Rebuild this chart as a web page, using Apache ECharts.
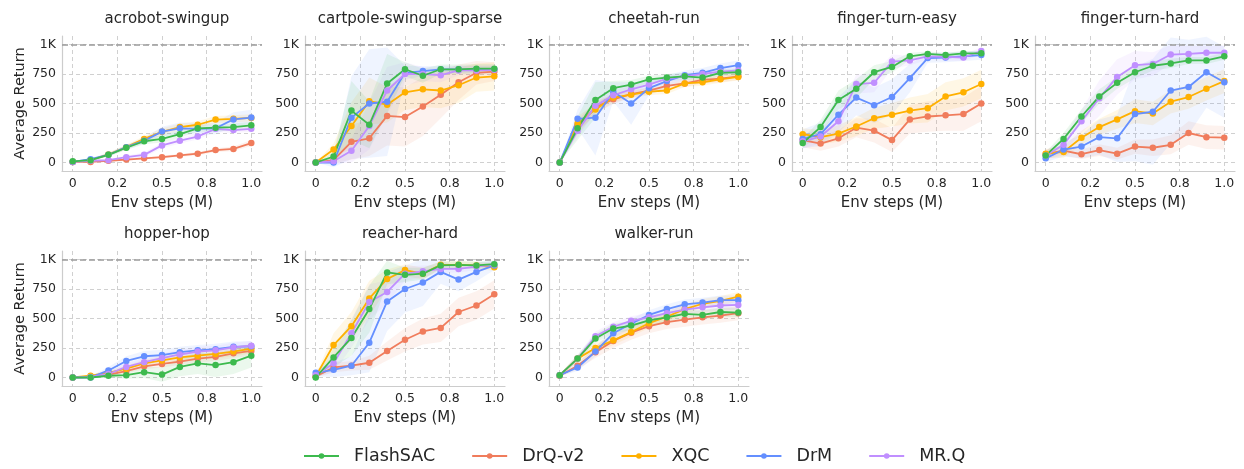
<!DOCTYPE html>
<html><head><meta charset="utf-8">
<script src="https://cdn.jsdelivr.net/npm/echarts@6/dist/echarts.min.js"></script>
<style>html,body{margin:0;padding:0;background:#fff}#chart{width:1244px;height:469px}</style>
</head><body><div id="chart"></div>
<script>
const steps = [0,0.1,0.2,0.3,0.4,0.5,0.6,0.7,0.8,0.9,1.0];
const xTickValues = [0,0.25,0.5,0.75,1.0];
const xTickLabels = ["0","0.2","0.5","0.8","1.0"];
const yTickValues = [0,250,500,750,1000];
const yTickLabels = ["0","250","500","750","1K"];
const methods = ["FlashSAC","DrQ-v2","XQC","DrM","MR.Q"];
const methodColors = ["#3dba4e","#f07c5c","#ffb000","#648fff","#c08fff"];
const tasks = ["acrobot-swingup","cartpole-swingup-sparse","cheetah-run","finger-turn-easy","finger-turn-hard","hopper-hop","reacher-hard","walker-run"];

// rows in method order: FlashSAC, DrQ-v2, XQC, DrM, MR.Q
const acrobotSwingupMean = [
  [10,20,65,125,180,200,240,290,295,300,315],
  [5,5,15,25,35,45,60,75,105,115,165],
  [5,20,68,130,200,260,300,320,364,370,378],
  [5,28,65,130,185,262,290,285,290,365,381],
  [5,15,20,45,65,145,185,220,285,275,285]
];
const acrobotSwingupStd = [
  [5,10,15,20,25,30,30,30,30,30,30],
  [5,5,8,10,10,12,12,15,15,20,25],
  [5,10,15,20,25,30,30,30,30,30,30],
  [5,10,15,20,25,40,50,50,50,60,65],
  [5,5,8,15,20,25,25,25,25,25,25]
];
const cartpoleSwingupSparseMean = [
  [0,50,440,320,670,790,735,790,790,795,795],
  [0,20,175,205,395,385,475,575,680,760,770],
  [0,110,310,520,490,595,620,610,655,720,730],
  [0,0,380,500,515,760,775,790,790,790,790],
  [0,10,100,310,610,750,750,740,780,780,785]
];
const cartpoleSwingupSparseStd = [
  [0,40,250,200,250,60,60,40,40,40,40],
  [0,30,150,150,250,250,250,200,150,100,80],
  [0,50,200,200,150,150,150,150,150,120,120],
  [0,40,350,460,460,60,40,30,30,30,30],
  [0,20,100,200,200,100,60,60,40,40,40]
];
const cheetahRunMean = [
  [0,290,530,630,660,705,720,730,720,760,765],
  [0,300,470,535,580,610,650,670,700,710,730],
  [0,330,450,550,575,600,610,670,680,705,725],
  [0,370,380,600,500,630,690,740,760,800,825],
  [0,270,480,570,620,660,710,730,750,770,780]
];
const cheetahRunStd = [
  [0,100,150,60,40,30,30,30,30,30,30],
  [0,60,50,40,30,30,30,30,30,30,30],
  [0,60,50,40,30,30,30,30,30,30,30],
  [0,80,320,80,180,60,50,40,40,40,40],
  [0,60,50,40,30,30,30,30,30,30,30]
];
const fingerTurnEasyMean = [
  [165,300,530,625,765,810,900,920,910,925,925],
  [190,160,205,295,270,190,365,390,400,410,500],
  [240,215,245,305,375,405,440,460,560,595,665],
  [200,240,405,550,485,555,715,885,890,900,910],
  [180,220,350,665,675,855,865,900,895,890,945]
];
const fingerTurnEasyStd = [
  [40,60,80,80,60,50,30,20,20,20,20],
  [60,60,70,80,100,100,120,130,130,140,150],
  [50,60,70,80,90,100,110,120,120,120,120],
  [80,100,150,150,150,150,120,40,40,40,40],
  [60,60,80,80,80,60,40,30,30,30,30]
];
const fingerTurnHardMean = [
  [60,200,390,560,675,765,820,840,865,865,900],
  [70,100,70,105,75,135,125,150,250,215,210],
  [75,90,210,300,365,435,415,515,555,625,690],
  [35,110,135,215,205,410,430,610,640,765,680],
  [60,150,350,545,725,825,835,915,920,930,930]
];
const fingerTurnHardStd = [
  [30,50,60,60,50,50,40,40,30,30,30],
  [40,40,40,50,50,60,70,80,100,100,100],
  [40,50,60,70,80,100,100,100,100,100,100],
  [30,60,100,150,200,400,450,450,400,300,300],
  [40,60,100,150,150,120,100,80,70,60,60]
];
const hopperHopMean = [
  [0,0,15,20,45,25,90,120,105,130,185],
  [0,5,25,55,95,115,135,160,175,205,225],
  [0,15,40,75,120,145,170,185,200,220,245],
  [0,0,60,140,180,190,215,230,240,260,265],
  [0,5,30,90,130,165,195,220,230,255,270]
];
const hopperHopStd = [
  [0,5,15,30,50,60,80,90,100,100,100],
  [0,5,15,20,25,30,30,35,35,40,40],
  [0,10,20,25,30,35,35,35,40,40,40],
  [0,10,30,40,45,45,45,45,45,45,45],
  [0,5,20,30,35,40,40,40,40,40,40]
];
const reacherHardMean = [
  [0,170,335,580,890,870,880,950,955,950,960],
  [10,85,100,125,225,320,390,420,555,610,705],
  [10,275,435,670,835,910,880,955,955,950,935],
  [40,65,100,295,645,750,805,895,830,895,950],
  [20,120,375,640,725,880,900,920,920,940,955]
];
const reacherHardStd = [
  [10,80,150,200,100,60,50,30,30,30,30],
  [10,40,40,60,80,100,110,120,120,120,120],
  [10,100,120,150,80,50,50,30,30,30,30],
  [30,60,80,250,250,200,200,100,100,80,40],
  [10,80,120,150,100,60,50,30,30,30,30]
];
const walkerRunMean = [
  [20,160,330,415,440,485,510,540,530,555,550],
  [15,100,215,310,380,435,470,490,510,525,545],
  [20,160,250,315,385,460,515,580,625,650,685],
  [20,85,220,375,455,530,580,620,635,655,655],
  [20,160,350,430,480,510,545,575,595,610,615]
];
const walkerRunStd = [
  [10,30,40,40,40,40,40,40,40,40,40],
  [10,30,50,60,60,60,60,60,60,60,60],
  [10,30,40,40,40,40,40,40,40,40,40],
  [10,30,40,40,40,40,40,40,40,40,40],
  [10,30,40,40,40,40,40,40,40,40,40]
];

const taskMeans = [acrobotSwingupMean,cartpoleSwingupSparseMean,cheetahRunMean,fingerTurnEasyMean,fingerTurnHardMean,hopperHopMean,reacherHardMean,walkerRunMean];
const taskStds = [acrobotSwingupStd,cartpoleSwingupSparseStd,cheetahRunStd,fingerTurnEasyStd,fingerTurnHardStd,hopperHopStd,reacherHardStd,walkerRunStd];

const FONT = 'DejaVu Sans';
const TXT = '#262626';
const colLefts = [62,305,549,792,1035];
const rowTops = [36,251];
const GW = 200, GH = 135;
const drawOrder = [1,2,3,4,0];

function tickLabel(vals, labels, v) {
  for (let i = 0; i < vals.length; i++) if (Math.abs(vals[i]-v) < 1e-6) return labels[i];
  return '';
}

const grids = [], xAxes = [], yAxes = [], titles = [], series = [];
tasks.forEach((task, t) => {
  const row = Math.floor(t/5), col = t%5;
  const left = colLefts[col], top = rowTops[row];
  grids.push({left: left, top: top, width: GW, height: GH});
  titles.push({text: task, left: left + GW/2, top: top - 29, textAlign: 'center',
    textStyle: {fontSize: 15, fontWeight: 'normal', color: TXT, fontFamily: FONT}});
  xAxes.push({gridIndex: t, type: 'value', min: -0.06, max: 1.06,
    name: 'Env steps (M)', nameLocation: 'middle', nameGap: 25,
    nameTextStyle: {fontSize: 15, color: TXT, fontFamily: FONT},
    axisLine: {show: true, onZero: false, lineStyle: {color: '#cccccc', width: 1.2}},
    axisTick: {show: false, customValues: xTickValues},
    axisLabel: {customValues: xTickValues, formatter: v => tickLabel(xTickValues, xTickLabels, v),
      fontSize: 12.5, color: TXT, fontFamily: FONT, margin: 6},
    splitLine: {show: true, lineStyle: {type: [4,3], color: '#d0d0d0', width: 1}}
  });
  yAxes.push({gridIndex: t, type: 'value', min: -72, max: 1072,
    name: col === 0 ? 'Average Return' : '', nameLocation: 'middle', nameGap: 34,
    nameTextStyle: {fontSize: 14.5, color: TXT, fontFamily: FONT},
    axisLine: {show: true, onZero: false, lineStyle: {color: '#cccccc', width: 1.2}},
    axisTick: {show: false, customValues: yTickValues},
    axisLabel: {customValues: yTickValues, formatter: v => tickLabel(yTickValues, yTickLabels, v),
      fontSize: 12.5, color: TXT, fontFamily: FONT, margin: 6},
    splitLine: {show: true, lineStyle: {type: [4,3], color: '#d0d0d0', width: 1}}
  });
  const means = taskMeans[t], stds = taskStds[t];
  // shaded bands (mean ± std) drawn through the axes' scales
  drawOrder.forEach(m => {
    const mean = means[m], std = stds[m], color = methodColors[m];
    series.push({type: 'custom', name: methods[m] + ' band', xAxisIndex: t, yAxisIndex: t,
      silent: true, clip: true, data: [[0, 0]],
      renderItem: (params, api) => {
        const up = steps.map((x, i) => api.coord([x, mean[i] + std[i]]));
        const lo = steps.map((x, i) => api.coord([x, mean[i] - std[i]])).reverse();
        return {type: 'polygon', silent: true, shape: {points: up.concat(lo)},
          style: {fill: color, opacity: 0.1}};
      }});
  });
  // 1K reference line
  series.push({type: 'line', name: 'ref', xAxisIndex: t, yAxisIndex: t, data: [], silent: true,
    markLine: {silent: true, symbol: 'none', label: {show: false}, animation: false,
      lineStyle: {type: [6,3], color: '#9a9a9a', width: 1.6}, data: [{yAxis: 1000}]}});
  // means
  drawOrder.forEach(m => {
    series.push({type: 'line', name: methods[m], xAxisIndex: t, yAxisIndex: t,
      symbol: 'circle', symbolSize: 6.5, color: methodColors[m],
      lineStyle: {width: 1.8, color: methodColors[m]}, itemStyle: {color: methodColors[m]},
      data: steps.map((x, i) => [x, means[m][i]])});
  });
});

const chart = echarts.init(document.getElementById('chart'), null, {renderer: 'canvas'});
chart.setOption({
  animation: false,
  backgroundColor: '#ffffff',
  textStyle: {fontFamily: FONT},
  title: titles,
  grid: grids,
  xAxis: xAxes,
  yAxis: yAxes,
  legend: {data: methods, left: 303, top: 447, padding: 0, itemWidth: 35, itemHeight: 7, itemGap: 36,
    textStyle: {fontSize: 17.5, color: TXT, fontFamily: FONT, padding: [0,0,0,10]}},
  series: series
});
</script></body></html>
